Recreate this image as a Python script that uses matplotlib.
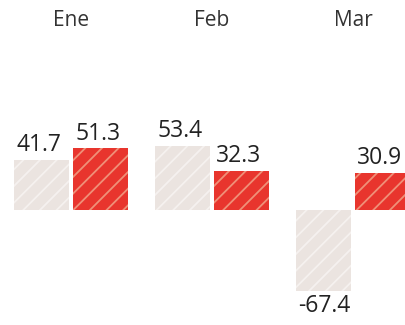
import numpy as np
import matplotlib.pyplot as plt

# datos
meses = ["Ene", "Feb", "Mar"]
serie_gris = [41.7, 53.4, -67.4]
serie_roja = [51.3, 32.3, 30.9]
etiq_gris = ["41.7", "53.4", "-67.4"]
etiq_roja = ["51.3", "32.3", "30.9"]

plt.rcParams['font.family'] = ['Open Sans', 'DejaVu Sans']
plt.rcParams['hatch.linewidth'] = 1.3

fig = plt.figure(figsize=(4.05, 3.25), dpi=100)
ax = fig.add_axes([0, 0, 1, 1])
ax.set_axis_off()

x = np.arange(len(meses))
ancho = 0.39
desp = 0.209

b1 = ax.bar(x - desp, serie_gris, width=ancho, color="#ebe4e0",
            edgecolor="#f5f1ef", hatch="//", linewidth=0)
b2 = ax.bar(x + desp, serie_roja, width=ancho, color="#e8352d",
            edgecolor="#ef9078", hatch="//", linewidth=0)

ax.set_xlim(-0.504, 2.369)
ax.set_ylim(-95.8, 175)

# etiquetas de valor
for barras, etiquetas in [(b1, etiq_gris), (b2, etiq_roja)]:
    for rect, txt in zip(barras, etiquetas):
        h = rect.get_height()
        x0 = rect.get_x() + 0.015
        if h >= 0:
            ax.annotate(txt, (x0, h), xytext=(0, 2), textcoords="offset points",
                        ha="left", va="bottom", fontsize=16.5, color="#222222")
        else:
            ax.annotate(txt, (x0, h), xytext=(0, -2), textcoords="offset points",
                        ha="left", va="top", fontsize=16.5, color="#222222")

# meses arriba
for xi, m in zip(x, meses):
    ax.text(xi, 0.937, m, transform=ax.get_xaxis_transform(), ha="center",
            va="center", fontsize=15, color="#333333")

fig.savefig("out.png", dpi=100)
